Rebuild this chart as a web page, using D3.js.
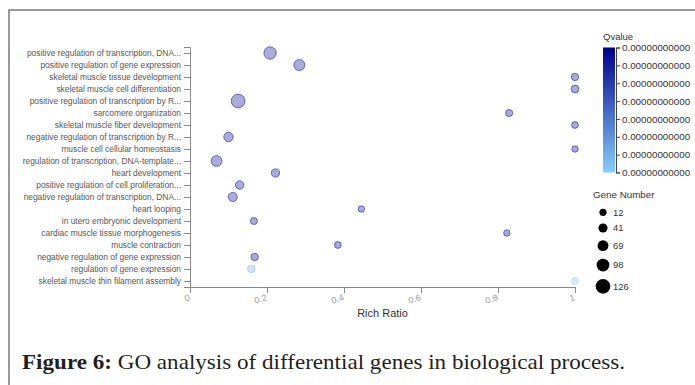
<!DOCTYPE html>
<html><head><meta charset="utf-8">
<script src="https://cdn.jsdelivr.net/npm/d3@7"></script>
<style>body{margin:0;background:#fff}svg{display:block}</style>
</head><body>
<svg id="c" width="695" height="385"></svg>
<script>
const categories = [
 "positive regulation of transcription, DNA...",
 "positive regulation of gene expression",
 "skeletal muscle tissue development",
 "skeletal muscle cell differentiation",
 "positive regulation of transcription by R...",
 "sarcomere organization",
 "skeletal muscle fiber development",
 "negative regulation of transcription by R...",
 "muscle cell cellular homeostasis",
 "regulation of transcription, DNA-template...",
 "heart development",
 "positive regulation of cell proliferation...",
 "negative regulation of transcription, DNA...",
 "heart looping",
 "in utero embryonic development",
 "cardiac muscle tissue morphogenesis",
 "muscle contraction",
 "negative regulation of gene expression",
 "regulation of gene expression",
 "skeletal muscle thin filament assembly"
];
const richRatio = [0.208,0.284,1.0,1.0,0.125,0.829,1.0,0.100,1.0,0.069,0.222,0.129,0.111,0.445,0.166,0.823,0.384,0.168,0.159,1.0];
const geneNumber = [105,85,28,34,126,24,18,59,12,80,39,45,54,13,23,13,18,28,28,18];
const qValue = [1e-30,2e-28,3e-27,4e-27,1e-40,2e-26,5e-26,3e-29,6e-26,1e-35,4e-27,2e-28,8e-29,7e-26,3e-26,9e-26,1e-25,2e-25,2.1e-13,2.4e-13];
const xTicks = [0,0.2,0.4,0.6,0.8,1];
const sizeLegend = [12,41,69,98,126];
const qTickCount = 8;
const caption = ["Figure 6:", " GO analysis of differential genes in biological process."];

const svg = d3.select("#c");
// frame
svg.append("path").attr("d","M9,385V10H695").attr("fill","none").attr("stroke","#7a7a7a").attr("stroke-width",1.5);

const x = d3.scaleLinear().domain([0,1]).range([190,575]);
const y = d3.scalePoint().domain(categories).range([47,287]).padding(0.5);
const qmin = d3.min(qValue), qmax = d3.max(qValue);
const color = d3.scaleLinear().domain([qmin,qmax]).range(["#00008b","#87cefa"]);
const r = d3.scaleLinear().domain([12,126]).range([3.2,6.9]);

// y axis
const ya = svg.append("g").attr("transform","translate(190,0)").call(d3.axisLeft(y).tickSize(6).tickPadding(3));
ya.selectAll("text").attr("font-family","Liberation Sans, Arial, sans-serif").attr("font-size","8.4px").attr("fill","#555");
ya.selectAll("line,path").attr("stroke","#888");
// x axis
const xa = svg.append("g").attr("transform","translate(0,287)").call(d3.axisBottom(x).tickValues(xTicks).tickFormat(d3.format("")).tickSize(6));
xa.selectAll("line,path").attr("stroke","#888");
xa.selectAll("text").attr("font-family","Liberation Sans, Arial, sans-serif").attr("font-size","9px").attr("fill","#999")
  .attr("y",0).attr("dy",0).attr("text-anchor","end").attr("transform","translate(0,13) rotate(-18)");
svg.append("text").attr("x",382.5).attr("y",317).attr("text-anchor","middle")
  .attr("font-family","Liberation Sans, Arial, sans-serif").attr("font-size","11px").attr("fill","#333").text("Rich Ratio");

// bubbles
svg.append("g").selectAll("circle").data(categories).join("circle")
  .attr("cx",(d,i)=>x(richRatio[i])).attr("cy",d=>y(d)).attr("r",(d,i)=>r(geneNumber[i]))
  .attr("fill",(d,i)=>color(qValue[i])).attr("fill-opacity",0.33)
  .attr("stroke",(d,i)=>color(qValue[i])).attr("stroke-opacity",0.5).attr("stroke-width",1);

// Qvalue legend
const defs = svg.append("defs");
const grad = defs.append("linearGradient").attr("id","qg").attr("x1",0).attr("y1",0).attr("x2",0).attr("y2",1);
grad.append("stop").attr("offset","0%").attr("stop-color",color(qmin));
grad.append("stop").attr("offset","100%").attr("stop-color",color(qmax));
svg.append("text").attr("x",603).attr("y",39.5).attr("font-family","Liberation Sans, Arial, sans-serif").attr("font-size","9.5px").attr("fill","#333").text("Qvalue");
svg.append("rect").attr("x",603).attr("y",47.5).attr("width",12).attr("height",125).attr("fill","url(#qg)");
const qs = d3.scaleLinear().domain([qmin,qmax]).range([47.5,172.5]);
const qa = svg.append("g").attr("transform","translate(616,0)")
  .call(d3.axisRight(qs).tickValues(d3.range(qTickCount).map(i=>qmin+i*(qmax-qmin)/(qTickCount-1))).tickFormat(d3.format(".11f")).tickSize(4).tickPadding(2));
qa.selectAll("text").attr("font-family","Liberation Sans, Arial, sans-serif").attr("font-size","9.8px").attr("fill","#333");
qa.selectAll("line,path").attr("stroke","#444");

// Gene number legend
svg.append("text").attr("x",593).attr("y",198).attr("font-family","Liberation Sans, Arial, sans-serif").attr("font-size","9.8px").attr("fill","#333").text("Gene Number");
let ly = 212.3; const ypos = [];
sizeLegend.forEach((v,i)=>{ if(i>0) ly += r(sizeLegend[i-1]) + r(v) + 8.4; ypos.push(ly); });
const lg = svg.append("g");
lg.selectAll("circle").data(sizeLegend).join("circle").attr("cx",603).attr("cy",(d,i)=>ypos[i]).attr("r",d=>r(d)+0.4).attr("fill","#000");
lg.selectAll("text").data(sizeLegend).join("text").attr("x",613).attr("y",(d,i)=>ypos[i]+3.3)
  .attr("font-family","Liberation Sans, Arial, sans-serif").attr("font-size","9.4px").attr("fill","#333").text(d=>d);

// caption
const cap = svg.append("text").attr("x",22).attr("y",369).attr("font-family","Liberation Serif, Times New Roman, serif").attr("font-size","22px").attr("fill","#231f20")
  .attr("textLength",603).attr("lengthAdjust","spacingAndGlyphs");
cap.append("tspan").attr("font-weight","bold").text(caption[0]);
cap.append("tspan").text(caption[1]);
</script>
</body></html>
